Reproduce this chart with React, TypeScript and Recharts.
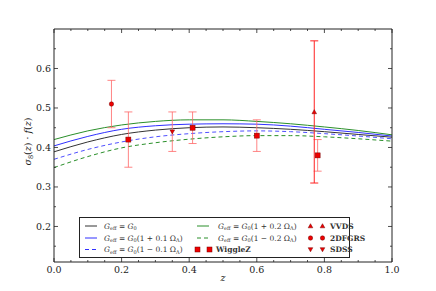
import { ComposedChart, Line, Scatter, XAxis, YAxis, ErrorBar } from "recharts";

// redshift grid for the model curves
const zGrid = [0, 0.1, 0.2, 0.3, 0.4, 0.5, 0.6, 0.7, 0.8, 0.9, 1.0];
const gStd = [0.389, 0.414, 0.433, 0.444, 0.45, 0.452, 0.45, 0.446, 0.44, 0.433, 0.426];
const gPlus01 = [0.404, 0.428, 0.446, 0.455, 0.459, 0.46, 0.459, 0.454, 0.446, 0.438, 0.429];
const gMinus01 = [0.37, 0.395, 0.414, 0.427, 0.435, 0.44, 0.442, 0.44, 0.435, 0.429, 0.422];
const gPlus02 = [0.42, 0.442, 0.457, 0.466, 0.47, 0.47, 0.466, 0.46, 0.452, 0.443, 0.432];
const gMinus02 = [0.349, 0.377, 0.399, 0.412, 0.421, 0.427, 0.43, 0.43, 0.427, 0.422, 0.416];

// observations
const wigZ = [0.22, 0.41, 0.6, 0.78];
const wigVal = [0.42, 0.45, 0.43, 0.38];
const wigErr = [0.07, 0.04, 0.04, 0.04];
const dfZ = [0.17];
const dfVal = [0.51];
const dfErr = [0.06];
const vvZ = [0.77];
const vvVal = [0.49];
const vvErr = [0.18];
const sdZ = [0.35];
const sdVal = [0.44];
const sdErr = [0.05];

const xTicks = [0, 0.05, 0.1, 0.15, 0.2, 0.25, 0.3, 0.35, 0.4, 0.45, 0.5, 0.55, 0.6, 0.65, 0.7, 0.75, 0.8, 0.85, 0.9, 0.95, 1.0];
const yTicks = [0.15, 0.2, 0.25, 0.3, 0.35, 0.4, 0.45, 0.5, 0.55, 0.6, 0.65];

const curves = zGrid.map((z, i) => ({
  z,
  std: gStd[i],
  p1: gPlus01[i],
  m1: gMinus01[i],
  p2: gPlus02[i],
  m2: gMinus02[i],
}));

const pts = (zs: number[], vs: number[], es: number[]) =>
  zs.map((z, i) => ({ z, y: vs[i], err: es[i] }));

const FONT = "'DejaVu Serif', serif";
const AX = "#222";
const RED = "#e00";
const EDGE = "#700";
const BLUE = "#3030ff";
const GREEN = "#2a8f2a";

const isMajor = (v: number, step: number) => Math.abs(v / step - Math.round(v / step)) < 1e-6;

const BottomTick = (p: any) => {
  const major = isMajor(p.payload.value, 0.2);
  return (
    <g>
      <line x1={p.x} y1={p.y} x2={p.x} y2={p.y - (major ? 4 : 2)} stroke={AX} strokeWidth={0.8} />
      {major && (
        <text x={p.x} y={p.y + 11} textAnchor="middle" style={{ fontFamily: FONT, fontSize: 9.5 }} fill={AX}>
          {p.payload.value.toFixed(1)}
        </text>
      )}
    </g>
  );
};

const TopTick = (p: any) => {
  const major = isMajor(p.payload.value, 0.2);
  return <line x1={p.x} y1={p.y} x2={p.x} y2={p.y + (major ? 4 : 2)} stroke={AX} strokeWidth={0.8} />;
};

const LeftTick = (p: any) => {
  const major = isMajor(p.payload.value, 0.1);
  return (
    <g>
      <line x1={p.x} y1={p.y} x2={p.x + (major ? 4 : 2)} y2={p.y} stroke={AX} strokeWidth={0.8} />
      {major && (
        <text x={p.x - 3} y={p.y + 3.5} textAnchor="end" style={{ fontFamily: FONT, fontSize: 9.5 }} fill={AX}>
          {p.payload.value.toFixed(1)}
        </text>
      )}
    </g>
  );
};

const RightTick = (p: any) => {
  const major = isMajor(p.payload.value, 0.1);
  return <line x1={p.x} y1={p.y} x2={p.x - (major ? 4 : 2)} y2={p.y} stroke={AX} strokeWidth={0.8} />;
};

const square = (p: any) => (
  <rect x={p.cx - 2.5} y={p.cy - 2.5} width={5} height={5} fill={RED} stroke={EDGE} strokeWidth={0.5} />
);
const circle = (p: any) => <circle cx={p.cx} cy={p.cy} r={2.2} fill={RED} stroke={EDGE} strokeWidth={0.5} />;
const triUp = (p: any) => (
  <polygon
    points={`${p.cx - 2.3},${p.cy + 1.8} ${p.cx + 2.3},${p.cy + 1.8} ${p.cx},${p.cy - 2.3}`}
    fill={RED}
    stroke={EDGE}
    strokeWidth={0.5}
  />
);
const triDown = (p: any) => (
  <polygon
    points={`${p.cx - 2.3},${p.cy - 1.8} ${p.cx + 2.3},${p.cy - 1.8} ${p.cx},${p.cy + 2.3}`}
    fill={RED}
    stroke={EDGE}
    strokeWidth={0.5}
  />
);

const YLabel = (props: any) => {
  const vb = props.viewBox;
  const cx = vb.x + 31;
  const cy = vb.y + vb.height / 2 - 4;
  return (
    <text
      x={cx}
      y={cy}
      transform={`rotate(-90 ${cx} ${cy})`}
      textAnchor="middle"
      style={{ fontFamily: FONT, fontSize: 9.5 }}
      fill={AX}
    >
      <tspan fontStyle="italic">σ</tspan>
      <tspan fontSize={6.5} dy={2}>8</tspan>
      <tspan dy={-2}>(</tspan>
      <tspan fontStyle="italic">z</tspan>
      <tspan>) · </tspan>
      <tspan fontStyle="italic">f</tspan>
      <tspan>(</tspan>
      <tspan fontStyle="italic">z</tspan>
      <tspan>)</tspan>
    </text>
  );
};

const XLabel = (props: any) => {
  const vb = props.viewBox;
  return (
    <text
      x={vb.x + vb.width / 2}
      y={vb.y + 19}
      textAnchor="middle"
      style={{ fontFamily: FONT, fontSize: 9.5, fontStyle: "italic" }}
      fill={AX}
    >
      z
    </text>
  );
};

// legend label: G_eff = G_0 followed by an optional factor
const GLabel = ({ x, y, factor }: { x: number; y: number; factor: string }) => (
  <text x={x} y={y + 2.5} style={{ fontFamily: FONT, fontSize: 7.5 }} fill="#333">
    <tspan fontStyle="italic">G</tspan>
    <tspan fontSize={5} dy={1.5}>eff</tspan>
    <tspan dy={-1.5}> = </tspan>
    <tspan fontStyle="italic">G</tspan>
    <tspan fontSize={5} dy={1.5}>0</tspan>
    {factor ? (
      <>
        <tspan dy={-1.5}>{`(1 ${factor} Ω`}</tspan>
        <tspan fontSize={5} dy={1.5}>Λ</tspan>
        <tspan dy={-1.5}>)</tspan>
      </>
    ) : null}
  </text>
);

const LegendBox = () => {
  const r1 = 226;
  const r2 = 238;
  const r3 = 249.5;
  const bold = { fontFamily: FONT, fontSize: 7.5, fontWeight: "bold" as const };
  return (
    <svg
      width={436}
      height={291}
      style={{ position: "absolute", left: 0, top: 0, pointerEvents: "none" }}
    >
      <rect x={79.5} y={217.5} width={270} height={40} fill="#fff" stroke="#222" strokeWidth={1} />
      <line x1={85} y1={r1} x2={97} y2={r1} stroke="#333" strokeWidth={1} />
      <GLabel x={104} y={r1} factor="" />
      <line x1={85} y1={r2} x2={97} y2={r2} stroke={BLUE} strokeWidth={1} />
      <GLabel x={104} y={r2} factor="+ 0.1" />
      <line x1={85} y1={r3} x2={97} y2={r3} stroke={BLUE} strokeWidth={1} strokeDasharray="4 3" />
      <GLabel x={104} y={r3} factor="− 0.1" />

      <line x1={197} y1={r1} x2={209} y2={r1} stroke={GREEN} strokeWidth={1} />
      <GLabel x={218} y={r1} factor="+ 0.2" />
      <line x1={197} y1={r2} x2={209} y2={r2} stroke={GREEN} strokeWidth={1} strokeDasharray="4 3" />
      <GLabel x={218} y={r2} factor="− 0.2" />
      {square({ cx: 197.5, cy: r3 })}
      {square({ cx: 209.5, cy: r3 })}
      <text x={216} y={r3 + 2.7} style={bold} fill="#333">
        WiggleZ
      </text>

      {triUp({ cx: 310.5, cy: r1 })}
      {triUp({ cx: 322.5, cy: r1 })}
      <text x={330} y={r1 + 2.7} style={bold} fill="#333">
        VVDS
      </text>
      {circle({ cx: 310.5, cy: r2 })}
      {circle({ cx: 322.5, cy: r2 })}
      <text x={330} y={r2 + 2.7} style={bold} fill="#333">
        2DFGRS
      </text>
      {triDown({ cx: 310.5, cy: r3 })}
      {triDown({ cx: 322.5, cy: r3 })}
      <text x={330} y={r3 + 2.7} style={bold} fill="#333">
        SDSS
      </text>
    </svg>
  );
};

export default function App() {
  return (
    <div style={{ position: "absolute", left: 0, top: 0, width: 436, height: 291, background: "#fff" }}>
      <ComposedChart width={436} height={291} data={curves} margin={{ top: 28, right: 43, left: 0, bottom: 0 }}>
        <XAxis
          dataKey="z"
          type="number"
          domain={[0, 1]}
          ticks={xTicks}
          interval={0}
          allowDataOverflow
          height={29}
          tickSize={0}
          tickMargin={0}
          tick={BottomTick}
          stroke={AX}
          label={XLabel}
        />
        <XAxis
          xAxisId="top"
          dataKey="z"
          orientation="top"
          type="number"
          domain={[0, 1]}
          ticks={xTicks}
          interval={0}
          allowDataOverflow
          height={1}
          tickSize={0}
          tickMargin={0}
          tick={TopTick}
          stroke={AX}
        />
        <YAxis
          type="number"
          domain={[0.11, 0.7]}
          ticks={yTicks}
          interval={0}
          allowDataOverflow
          width={54}
          tickSize={0}
          tickMargin={0}
          tick={LeftTick}
          stroke={AX}
          label={YLabel}
        />
        <YAxis
          yAxisId="right"
          orientation="right"
          type="number"
          domain={[0.11, 0.7]}
          ticks={yTicks}
          interval={0}
          allowDataOverflow
          width={1}
          tickSize={0}
          tickMargin={0}
          tick={RightTick}
          stroke={AX}
        />
        <Line type="monotone" dataKey="std" stroke="#333" strokeWidth={1} dot={false} isAnimationActive={false} />
        <Line type="monotone" dataKey="p1" stroke={BLUE} strokeWidth={1} dot={false} isAnimationActive={false} />
        <Line
          type="monotone"
          dataKey="m1"
          stroke={BLUE}
          strokeWidth={1}
          strokeDasharray="4 3"
          strokeOpacity={0.85}
          dot={false}
          isAnimationActive={false}
        />
        <Line type="monotone" dataKey="p2" stroke={GREEN} strokeWidth={1} dot={false} isAnimationActive={false} />
        <Line
          type="monotone"
          dataKey="m2"
          stroke={GREEN}
          strokeWidth={1}
          strokeDasharray="4 3"
          dot={false}
          isAnimationActive={false}
        />
        <Line
          xAxisId="top"
          yAxisId="right"
          dataKey="std"
          stroke="none"
          dot={false}
          activeDot={false}
          legendType="none"
          isAnimationActive={false}
        />
        <Scatter data={pts(wigZ, wigVal, wigErr)} dataKey="y" shape={square} isAnimationActive={false}>
          <ErrorBar dataKey="err" direction="y" width={4} stroke="#f66" strokeWidth={1} strokeOpacity={0.8} />
        </Scatter>
        <Scatter data={pts(dfZ, dfVal, dfErr)} dataKey="y" shape={circle} isAnimationActive={false}>
          <ErrorBar dataKey="err" direction="y" width={4} stroke="#f66" strokeWidth={1} strokeOpacity={0.8} />
        </Scatter>
        <Scatter data={pts(vvZ, vvVal, vvErr)} dataKey="y" shape={triUp} isAnimationActive={false}>
          <ErrorBar dataKey="err" direction="y" width={4} stroke="#f22" strokeWidth={1} />
        </Scatter>
        <Scatter data={pts(sdZ, sdVal, sdErr)} dataKey="y" shape={triDown} isAnimationActive={false}>
          <ErrorBar dataKey="err" direction="y" width={4} stroke="#f66" strokeWidth={1} strokeOpacity={0.8} />
        </Scatter>
      </ComposedChart>
      <LegendBox />
    </div>
  );
}
